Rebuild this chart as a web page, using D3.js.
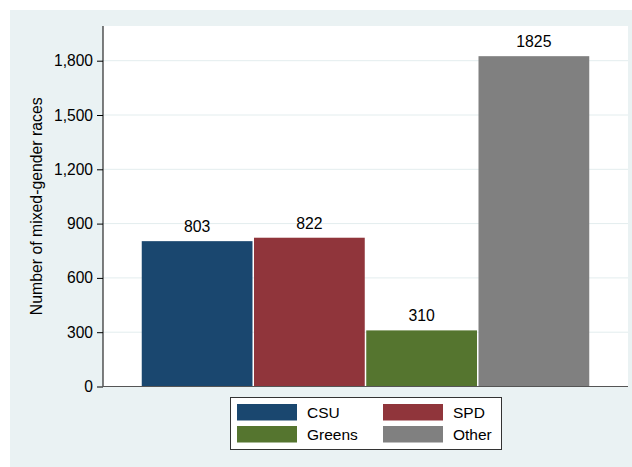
<!DOCTYPE html>
<html><head><meta charset="utf-8">
<script src="https://cdn.jsdelivr.net/npm/d3@7"></script>
<style>body{margin:0;background:#fff}svg{display:block;font-family:Arial,"Liberation Sans",sans-serif}</style>
</head><body><svg id="c" width="632" height="467"></svg>
<script>
const categories = ["CSU","SPD","Greens","Other"];
const values = [803, 822, 310, 1825];
const colors = ["#1a476f","#90353b","#55752f","#808080"];
const yTicks = [0,300,600,900,1200,1500,1800];
const yTitle = "Number of mixed-gender races";

const svg = d3.select("#c");
svg.append("rect").attr("x",10).attr("y",10).attr("width",622).attr("height",457).attr("fill","#eaf2f3");
const L=103, R=628, T=26, B=386.5;
svg.append("rect").attr("x",L).attr("y",T).attr("width",R-L).attr("height",B-T).attr("fill","#fff");

const y = d3.scaleLinear().domain([0,1800]).range([B,60.7]);
const x = d3.scaleBand().domain(categories).range([141,590]).padding(0);

// gridlines
svg.append("g").selectAll("line").data(yTicks.filter(d=>d>0)).join("line")
  .attr("x1",L).attr("x2",R).attr("y1",d=>y(d)).attr("y2",d=>y(d))
  .attr("stroke","#e3edee").attr("stroke-width",1);

// bars
svg.append("g").selectAll("rect").data(categories).join("rect")
  .attr("x",d=>x(d)+0.75).attr("width",x.bandwidth()-1.5)
  .attr("y",(d,i)=>y(values[i])).attr("height",(d,i)=>B-y(values[i]))
  .attr("fill",(d,i)=>colors[i]);

// value labels
svg.append("g").selectAll("text").data(categories).join("text")
  .attr("x",d=>x(d)+x.bandwidth()/2).attr("y",(d,i)=>y(values[i])-9)
  .attr("text-anchor","middle").attr("font-size",15.8).attr("fill","#000")
  .text((d,i)=>values[i]);

// y axis
const ax = svg.append("g").attr("transform",`translate(${L},0)`)
  .call(d3.axisLeft(y).tickValues(yTicks).tickSize(6).tickPadding(4).tickFormat(d3.format(",")));
ax.select(".domain").attr("stroke","#000").attr("d",`M0,${T}V${B}`);
ax.selectAll(".tick line").attr("stroke","#000");
ax.selectAll(".tick text").attr("font-size",15.6).attr("font-family","Arial, 'Liberation Sans', sans-serif").attr("fill","#000");

// bottom baseline
svg.append("line").attr("x1",L).attr("x2",R).attr("y1",B).attr("y2",B).attr("stroke","#555").attr("stroke-width",1.2);

// y title
svg.append("text").attr("transform",`translate(42,${(T+B)/2}) rotate(-90)`)
  .attr("text-anchor","middle").attr("font-size",15.8).attr("fill","#000").text(yTitle);

// legend
const lg = svg.append("g");
lg.append("rect").attr("x",230.5).attr("y",397.5).attr("width",271).attr("height",52)
  .attr("fill","#fff").attr("stroke","#333").attr("stroke-width",1);
const lx=[237,383], ly=[404,426];
categories.forEach((c,i)=>{
  const col=i%2, row=Math.floor(i/2);
  lg.append("rect").attr("x",lx[col]).attr("y",ly[row]).attr("width",60).attr("height",16.5).attr("fill",colors[i]);
  lg.append("text").attr("x",lx[col]+70).attr("y",ly[row]+13.7).attr("font-size",15.5).attr("fill","#000").text(c);
});
</script></body></html>
